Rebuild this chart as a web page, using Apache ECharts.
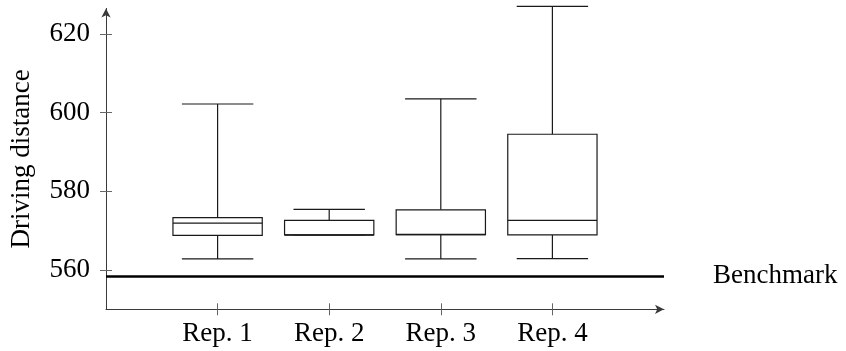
<!DOCTYPE html>
<html>
<head>
<meta charset="utf-8">
<script src="https://cdn.jsdelivr.net/npm/echarts@6/dist/echarts.min.js"></script>
<style>
html,body{margin:0;padding:0;background:#fff;}
#chart{width:846px;height:351px;}
</style>
</head>
<body>
<div id="chart"></div>
<script>
// ---- data ----
const categories = ['Rep. 1', 'Rep. 2', 'Rep. 3', 'Rep. 4'];
const lowerWhisker = [562.8, 568.9, 562.8, 562.9];
const q1 = [568.8, 568.9, 569.0, 568.9];
const median = [571.9, 568.9, 569.0, 572.6];
const q3 = [573.3, 572.6, 575.3, 594.5];
const upperWhisker = [602.2, 575.4, 603.5, 627.0];
const benchmark = 558.5;
const yTicks = [560, 580, 600, 620];
const yTitle = 'Driving distance';
const benchmarkLabel = 'Benchmark';

const boxData = categories.map((c, i) => [i + 1, lowerWhisker[i], q1[i], median[i], q3[i], upperWhisker[i]]);
const xTicks = categories.map((c, i) => i + 1);

const FONT = 'Liberation Serif';
const LINE = '#1a1a1a';
const AXIS = '#3a3a3a';

const chart = echarts.init(document.getElementById('chart'), null, {renderer: 'canvas'});

function renderBox(params, api) {
  const x = api.value(0);
  const pLow = api.coord([x, api.value(1)]);
  const pQ1 = api.coord([x, api.value(2)]);
  const pMed = api.coord([x, api.value(3)]);
  const pQ3 = api.coord([x, api.value(4)]);
  const pHigh = api.coord([x, api.value(5)]);
  const boxW = api.size([0.8, 0])[0];
  const capW = api.size([0.64, 0])[0];
  const cx = pQ1[0];
  const st = {stroke: LINE, lineWidth: 1.2, fill: null};
  const children = [
    {type: 'line', shape: {x1: cx, y1: pLow[1], x2: cx, y2: pQ1[1]}, style: st},
    {type: 'line', shape: {x1: cx, y1: pQ3[1], x2: cx, y2: pHigh[1]}, style: st},
    {type: 'line', shape: {x1: cx - capW / 2, y1: pLow[1], x2: cx + capW / 2, y2: pLow[1]}, style: st},
    {type: 'line', shape: {x1: cx - capW / 2, y1: pHigh[1], x2: cx + capW / 2, y2: pHigh[1]}, style: st},
    {type: 'rect', shape: {x: cx - boxW / 2, y: pQ3[1], width: boxW, height: pQ1[1] - pQ3[1]}, style: {stroke: LINE, lineWidth: 1.2, fill: '#fff'}},
    {type: 'line', shape: {x1: cx - boxW / 2, y1: pMed[1], x2: cx + boxW / 2, y2: pMed[1]}, style: {stroke: LINE, lineWidth: 1.4}}
  ];
  return {type: 'group', children: children};
}

const option = {
  animation: false,
  backgroundColor: '#fff',
  grid: {left: 104.3, right: 182, top: 8.4, bottom: 41.7, containLabel: false},
  xAxis: [
    {
      type: 'value', min: 0, max: 5, position: 'bottom',
      axisLine: {show: true, lineStyle: {color: AXIS, width: 1}, symbol: ['none', 'arrow'], symbolSize: [7, 9]},
      axisTick: {show: true, customValues: xTicks, length: 6, inside: false, lineStyle: {color: '#666'}},
      axisLabel: {show: true, customValues: xTicks, margin: 11, color: '#000', fontFamily: FONT, fontSize: 27,
        formatter: v => categories[Math.round(v) - 1] || ''},
      splitLine: {show: false}
    },
    {
      type: 'value', min: 0, max: 5, position: 'bottom', gridIndex: 0,
      axisLine: {show: false},
      axisTick: {show: true, customValues: xTicks, length: 6, inside: true, lineStyle: {color: '#666'}},
      axisLabel: {show: false},
      splitLine: {show: false}
    }
  ],
  yAxis: [
    {
      type: 'value', min: 550, max: 626.5, position: 'left',
      name: yTitle, nameLocation: 'middle', nameGap: 71, nameRotate: 90,
      nameTextStyle: {color: '#000', fontFamily: FONT, fontSize: 27},
      axisLine: {show: true, lineStyle: {color: AXIS, width: 1}, symbol: ['none', 'arrow'], symbolSize: [7, 9]},
      axisTick: {show: true, customValues: yTicks, length: 6, inside: false, lineStyle: {color: '#666'}},
      axisLabel: {show: true, customValues: yTicks, margin: 16, color: '#000', fontFamily: FONT, fontSize: 27},
      splitLine: {show: false}
    },
    {
      type: 'value', min: 550, max: 626.5, position: 'left',
      axisLine: {show: false},
      axisTick: {show: true, customValues: yTicks, length: 6, inside: true, lineStyle: {color: '#666'}},
      axisLabel: {show: false},
      splitLine: {show: false}
    }
  ],
  series: [
    {
      type: 'custom',
      xAxisIndex: 0, yAxisIndex: 0,
      renderItem: renderBox,
      data: boxData,
      clip: false,
      z: 3
    },
    {
      type: 'line',
      xAxisIndex: 0, yAxisIndex: 0,
      data: [],
      silent: true,
      markLine: {
        silent: true,
        symbol: ['none', 'none'],
        animation: false,
        lineStyle: {color: '#000', width: 2.5, type: 'solid'},
        label: {show: true, position: 'end', formatter: benchmarkLabel, color: '#000', fontFamily: FONT, fontSize: 27, distance: 49},
        data: [{yAxis: benchmark}]
      }
    }
  ]
};
chart.setOption(option);
</script>
</body>
</html>
